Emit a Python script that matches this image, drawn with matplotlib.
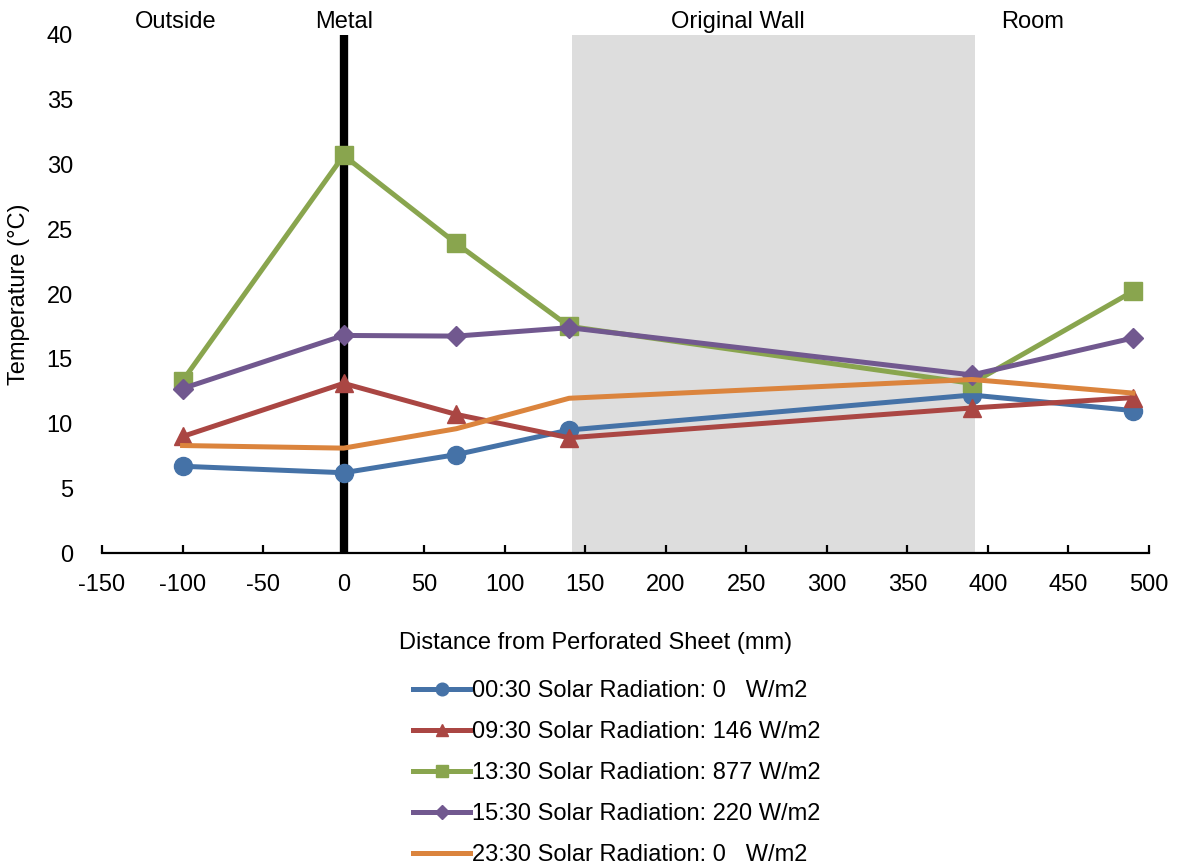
import matplotlib
matplotlib.use('Agg')
import matplotlib.pyplot as plt
from matplotlib.lines import Line2D

plt.rcParams['font.family'] = ['Liberation Sans', 'DejaVu Sans']
plt.rcParams['axes.unicode_minus'] = False

# distance from perforated sheet (mm)
distance = [-100, 0, 70, 140, 390, 490]

# temperatures (deg C)
t_0030 = [6.7, 6.2, 7.6, 9.5, 12.2, 11.0]
t_0930 = [9.0, 13.1, 10.7, 8.9, 11.2, 12.0]
t_1330 = [13.3, 30.7, 23.9, 17.5, 13.1, 20.2]
t_1530 = [12.7, 16.8, 16.75, 17.4, 13.75, 16.6]
t_2330 = [8.3, 8.1, 9.6, 11.95, 13.4, 12.35]

labels = ['00:30 Solar Radiation: 0   W/m2',
          '09:30 Solar Radiation: 146 W/m2',
          '13:30 Solar Radiation: 877 W/m2',
          '15:30 Solar Radiation: 220 W/m2',
          '23:30 Solar Radiation: 0   W/m2']

zones = ['Outside', 'Metal', 'Original Wall', 'Room']
zone_x = [-104, 0, 245, 428]

wall = (142, 392)

series = [t_0030, t_0930, t_1330, t_1530, t_2330]
colors = ['#4572A7', '#AA4643', '#89A54E', '#71588F', '#DB843D']
markers = ['o', '^', 's', 'D', None]
msizes = [13, 13, 13, 10, 0]

FS = 17


def main():
    fig = plt.figure(figsize=(11.77, 8.66), dpi=100)
    ax = fig.add_axes([0.0867, 0.3614, 0.8895, 0.5982])

    # wall and metal sheet
    ax.axvspan(wall[0], wall[1], color='#DDDDDD', zorder=0, lw=0)
    ax.plot([0, 0], [0, 40], color='black', lw=6, zorder=1, solid_capstyle='butt')

    handles = []
    for y, c, m, ms, lab in zip(series, colors, markers, msizes, labels):
        ax.plot(distance, y, color=c, lw=3.6, marker=m, markersize=ms,
                zorder=3, solid_joinstyle='round')
        handles.append(Line2D([], [], color=c, lw=3.6, marker=m,
                              markersize=ms * 0.7, label=lab))

    ax.set_xlim(-150, 500)
    ax.set_ylim(0, 40)
    ax.set_xticks(range(-150, 501, 50))
    ax.set_yticks(range(0, 41, 5))
    for s in ['top', 'right', 'left']:
        ax.spines[s].set_visible(False)
    ax.spines['bottom'].set_linewidth(1.6)
    ax.tick_params(axis='x', direction='in', length=6, width=1.6, labelsize=FS, pad=15)
    ax.tick_params(axis='y', length=0, labelsize=FS, pad=21)
    ax.set_ylabel('Temperature (°C)', fontsize=FS, labelpad=12)

    for name, x in zip(zones, zone_x):
        ax.text(x, 41.0, name, ha='center', va='center', fontsize=FS, clip_on=False)

    fig.text(596 / 1177, 1 - 643 / 866, 'Distance from Perforated Sheet (mm)',
             ha='center', va='center', fontsize=FS)

    fig.legend(handles=handles, loc='upper left', bbox_to_anchor=(404 / 1177, 1 - 671 / 866),
               frameon=False, fontsize=FS, handlelength=2.4, handletextpad=0.1,
               labelspacing=0.8, borderaxespad=0)

    fig.savefig('out.png', dpi=100)


main()
